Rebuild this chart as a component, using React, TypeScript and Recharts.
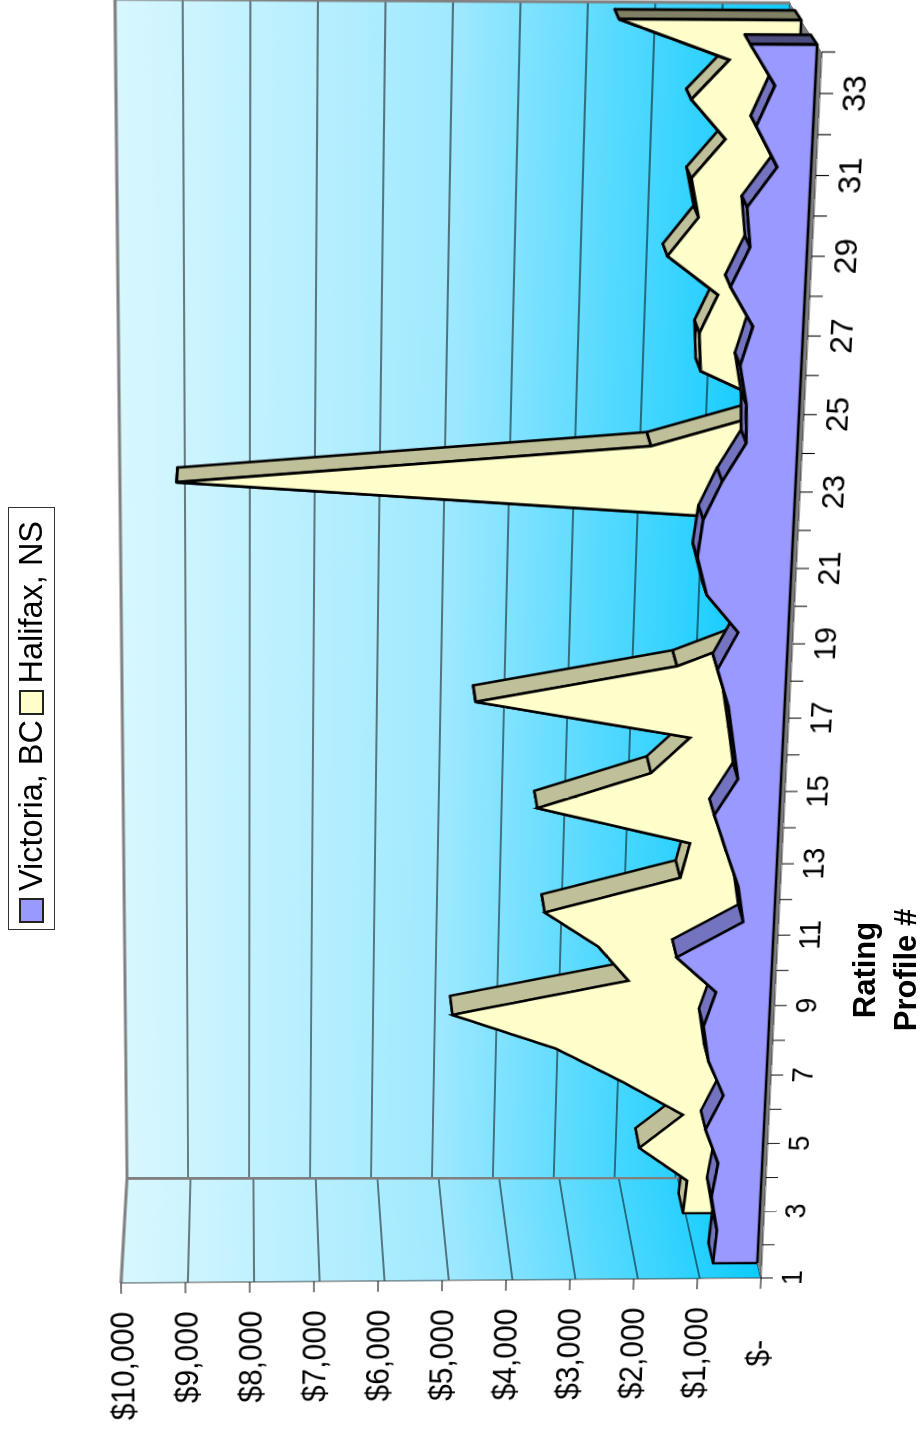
import React from 'react';
import { ComposedChart, Area, Line, XAxis, YAxis, CartesianGrid, ReferenceLine, Legend } from 'recharts';

const categories = Array.from({ length: 34 }, (_, i) => i + 1);
const valueTicks = [0, 1000, 2000, 3000, 4000, 5000, 6000, 7000, 8000, 9000, 10000];
const seriesNames = ['Victoria, BC', 'Halifax, NS'];
const axisTitles = ['Rating', 'Profile #'];
const victoria = [700, 660, 770, 690, 910, 655, 910, 1010, 840, 1470, 470, 570, 780, 985, 650, 745, 845, 1030, 745, 1240, 1400, 1335, 1080, 750, 775, 890, 730, 1080, 820, 890, 485, 810, 570, 945];
const halifax = [1000, 955, 1745, 1065, 2055, 3140, 4790, 2015, 2510, 3370, 1260, 1130, 3530, 1780, 1195, 4525, 1440, 0, 0, 0, 0, 9100, 1960, 0, 1260, 1300, 1045, 1820, 1380, 1510, 1030, 1555, 1020, 2650];

const table = categories.map((cat, i) => ({ cat, victoria: victoria[i], halifax: halifax[i], depth: 0 }));

const FONT = '"Liberation Sans", Arial, sans-serif';
const W = 1430, H = 860, L = 180, T = 20, PW = 1226, PH = 640;
const SW = 2.6;
type Pt = [number, number];
type Quad = [Pt, Pt, Pt, Pt]; // plot top-left, top-right, bottom-right, bottom-left
const FRONT: Quad = [[121, 1283], [105, 48], [822, 52], [761, 1278]];
const BACK: Quad = [[127, 1178], [115, -1], [790, 3], [736, 1178]];
const lerp = (a: Pt, b: Pt, t: number): Pt => [a[0] + (b[0] - a[0]) * t, a[1] + (b[1] - a[1]) * t];
const planeAt = (z: number): Quad => FRONT.map((p, i) => lerp(p, BACK[i], z)) as Quad;

type M = number[];
const mul = (a: M, b: M): M => {
  const r: M = [];
  for (let i = 0; i < 3; i++) for (let j = 0; j < 3; j++) r.push(a[i * 3] * b[j] + a[i * 3 + 1] * b[3 + j] + a[i * 3 + 2] * b[6 + j]);
  return r;
};
const inv = (m: M): M => {
  const [a, b, c, d, e, f, g, h, i] = m;
  const A = e * i - f * h, B = c * h - b * i, C = b * f - c * e;
  const D = f * g - d * i, E = a * i - c * g, F = c * d - a * f;
  const G = d * h - e * g, Hh = b * g - a * h, I = a * e - b * d;
  const det = a * A + b * D + c * G;
  return [A, B, C, D, E, F, G, Hh, I].map((v) => v / det);
};
const apply = (m: M, p: Pt): Pt => {
  const w = m[6] * p[0] + m[7] * p[1] + m[8];
  return [(m[0] * p[0] + m[1] * p[1] + m[2]) / w, (m[3] * p[0] + m[4] * p[1] + m[5]) / w];
};
const homography = (q: Quad): M => {
  const [[x0, y0], [x1, y1], [x2, y2], [x3, y3]] = q;
  const dx1 = x1 - x2, dx2 = x3 - x2, sx = x0 - x1 + x2 - x3;
  const dy1 = y1 - y2, dy2 = y3 - y2, sy = y0 - y1 + y2 - y3;
  const den = dx1 * dy2 - dx2 * dy1;
  const g = (sx * dy2 - dx2 * sy) / den;
  const h = (dx1 * sy - sx * dy1) / den;
  const unit: M = [x1 - x0 + g * x1, x3 - x0 + h * x3, x0, y1 - y0 + g * y1, y3 - y0 + h * y3, y0, g, h, 1];
  const toUnit: M = [1 / PW, 0, -L / PW, 0, 1 / PH, -T / PH, 0, 0, 1];
  return mul(unit, toUnit);
};
const cssMatrix = (m: M) =>
  `matrix3d(${[m[0], m[3], 0, m[6], m[1], m[4], 0, m[7], 0, 0, 1, 0, m[2], m[5], 0, m[8]].join(',')})`;

const Plane = ({ quad, children }: { quad: Quad; children: React.ReactNode }) => (
  <div style={{ position: 'absolute', left: 0, top: 0, width: W, height: H, transformOrigin: '0 0', transform: cssMatrix(homography(quad)) }}>
    {children}
  </div>
);

const MARGIN = { top: T, left: L, right: W - L - PW, bottom: H - T - PH };
const HiddenAxes = (xKey: string, xDomain: number[]) => [
  <XAxis key="x" hide type="number" dataKey={xKey} domain={xDomain} ticks={xDomain} />,
  <YAxis key="y" hide type="number" domain={[0, 10000]} ticks={valueTicks} />,
];
// An invisible series: the axes and the grid of a chart only get their scales when a series is present.
const carrier = <Line dataKey="victoria" stroke="none" dot={false} activeDot={false} isAnimationActive={false} legendType="none" />;

const Grad = ({ id }: { id: string }) => (
  <defs>
    <linearGradient id={id} x1="0" y1="0" x2="0" y2="1">
      <stop offset="0" stopColor="#d8f7ff" />
      <stop offset="0.5" stopColor="#a0e9ff" />
      <stop offset="0.75" stopColor="#55d9ff" />
      <stop offset="1" stopColor="#0ccbff" />
    </linearGradient>
  </defs>
);

const BackWall = () => (
  <Plane quad={BACK}>
    <ComposedChart width={W} height={H} data={table} margin={MARGIN}>
      <Grad id="gradBack" />
      {HiddenAxes('cat', [1, 34])}
      <CartesianGrid vertical={false} stroke="#000" strokeWidth={1.1} fill="url(#gradBack)" fillOpacity={1} />
      {carrier}
      <ReferenceLine y={10000} stroke="#808080" strokeWidth={3} />
      <ReferenceLine x={34} stroke="#808080" strokeWidth={3} />
    </ComposedChart>
  </Plane>
);

const sideQuad: Quad = [FRONT[0], BACK[0], BACK[3], FRONT[3]];
const SideWall = () => (
  <Plane quad={sideQuad}>
    <ComposedChart width={W} height={H} data={table} margin={MARGIN}>
      <Grad id="gradSide" />
      {HiddenAxes('depth', [0, 1])}
      <CartesianGrid vertical={false} stroke="#000" strokeWidth={1.1} fill="url(#gradSide)" fillOpacity={1} />
      {carrier}
      <ReferenceLine y={10000} stroke="#808080" strokeWidth={3} />
      <ReferenceLine x={1} stroke="#808080" strokeWidth={34} />
    </ComposedChart>
  </Plane>
);

const floorQuad: Quad = [BACK[3], BACK[2], FRONT[2], FRONT[3]];
const Floor = () => (
  <Plane quad={floorQuad}>
    <ComposedChart width={W} height={H} data={table} margin={MARGIN}>
      {HiddenAxes('cat', [1, 34])}
      <CartesianGrid vertical={false} horizontal={false} fill="#808080" fillOpacity={1} />
      {carrier}
    </ComposedChart>
  </Plane>
);

const makeBand = (zf: number, zb: number, band: string, cap: string) => {
  const R = mul(inv(homography(planeAt(zf))), homography(planeAt(zb)));
  return (props: any) => {
    const { cx, cy, index, points } = props;
    const p: Pt = [cx, cy];
    const next = points && points[index + 1];
    const poly = (pts: Pt[], fill: string) => (
      <polygon points={pts.map((v) => v.join(',')).join(' ')} fill={fill} stroke="#000" strokeWidth={SW} strokeLinejoin="round" />
    );
    if (next) {
      const q: Pt = [next.x, next.y];
      return <g key={index}>{poly([p, q, apply(R, q), apply(R, p)], band)}</g>;
    }
    const base: Pt = [cx, T + PH];
    return <g key={index}>{poly([p, base, apply(R, base), apply(R, p)], cap)}</g>;
  };
};

const Ribbon = ({ dataKey, values, zf, zb, face, band, cap }: { dataKey: string; values: number[]; zf: number; zb: number; face: string; band: string; cap: string }) => (
  <>
    <Plane quad={planeAt(zf)}>
      <ComposedChart width={W} height={H} data={table} margin={MARGIN}>
        {HiddenAxes('cat', [1, 34])}
        <Line dataKey={dataKey} stroke="none" dot={makeBand(zf, zb, band, cap)} activeDot={false} isAnimationActive={false} legendType="none" />
      </ComposedChart>
    </Plane>
    <Plane quad={planeAt(zf)}>
      <ComposedChart width={W} height={H} data={table} margin={MARGIN}>
        {HiddenAxes('cat', [1, 34])}
        <Area dataKey={dataKey} type="linear" stroke="#000" strokeWidth={SW} fill={face} fillOpacity={1} dot={false} activeDot={false} isAnimationActive={false} legendType="none" />
        <ReferenceLine y={0} stroke="#000" strokeWidth={SW} />
        <ReferenceLine segment={[{ x: 1, y: 0 }, { x: 1, y: values[0] }]} stroke="#000" strokeWidth={SW} />
        <ReferenceLine segment={[{ x: 34, y: 0 }, { x: 34, y: values[values.length - 1] }]} stroke="#000" strokeWidth={SW} />
      </ComposedChart>
    </Plane>
  </>
);

const fmtValue = (v: number) => (v === 0 ? '$-\u00A0\u00A0\u00A0\u00A0' : `$${v.toLocaleString('en-US')}`);
const fmtCat = (c: number) => (c % 2 === 1 ? String(c) : '');

const AxesPlane = () => (
  <Plane quad={FRONT}>
    <ComposedChart width={W} height={H} data={table} margin={{ top: T, left: 0, right: W - L - PW, bottom: 0 }}>
      <XAxis
        type="number"
        dataKey="cat"
        domain={[1, 34]}
        ticks={categories}
        interval={0}
        height={H - T - PH}
        tickSize={12}
        tickMargin={8}
        stroke="#444"
        tickFormatter={fmtCat}
        tick={{ fontSize: 30, fill: '#000', fontFamily: FONT }}
        tickLine={{ stroke: '#000' }}
      />
      <YAxis
        type="number"
        domain={[0, 10000]}
        ticks={valueTicks}
        interval={0}
        width={L}
        tickSize={12}
        tickMargin={20}
        stroke="#444"
        tickFormatter={fmtValue}
        tick={{ fontSize: 34, fill: '#000', fontFamily: FONT }}
        tickLine={{ stroke: '#000' }}
      />
      {carrier}
    </ComposedChart>
  </Plane>
);

const legendColors = ['#9999FF', '#FFFFCC'];
const LegendBox = () => (
  <div style={{ boxSizing: 'border-box', width: 423, height: 47, border: '1.5px solid #333', background: '#fff', display: 'flex', alignItems: 'center', paddingLeft: 6, fontFamily: FONT, fontSize: 32.5, color: '#000', whiteSpace: 'nowrap' }}>
    {seriesNames.map((n, i) => (
      <span key={n} style={{ display: 'inline-flex', alignItems: 'center', width: 216 }}>
        <span style={{ boxSizing: 'border-box', flex: 'none', width: 25, height: 25, background: legendColors[i], border: '2px solid #222', marginRight: 7 }} />
        {n}
      </span>
    ))}
  </div>
);

const TitleLabel = () => (
  <text fontFamily={FONT} fontWeight="bold" fontSize={31} fill="#000" textAnchor="middle">
    <tspan x={467} y={875}>{axisTitles[0]}</tspan>
    <tspan x={467} y={916}>{axisTitles[1]}</tspan>
  </text>
);

const Overlay = () => (
  <div style={{ position: 'absolute', left: 0, top: 0, width: 1437, height: 922, transformOrigin: '0 0', transform: 'translateY(1437px) rotate(-90deg)', pointerEvents: 'none' }}>
    <ComposedChart width={1437} height={922} data={table} margin={{ top: 0, left: 0, right: 0, bottom: 0 }}>
      <XAxis type="number" dataKey="cat" domain={[1, 34]} tick={false} axisLine={false} tickLine={false} height={100} label={{ value: axisTitles.join(' '), content: TitleLabel }} />
      <YAxis hide domain={[0, 10000]} />
      <Legend content={LegendBox} wrapperStyle={{ position: 'absolute', left: 507, top: 8, width: 423, height: 47 }} />
    </ComposedChart>
  </div>
);

export default function App() {
  return (
    <div style={{ position: 'absolute', left: 0, top: 0, width: 922, height: 1437, overflow: 'hidden', background: '#fff' }}>
      <BackWall />
      <SideWall />
      <Floor />
      <Ribbon dataKey="halifax" values={halifax} zf={0.65} zb={0.85} face="#FFFFCC" band="#BFBF99" cap="#808066" />
      <Ribbon dataKey="victoria" values={victoria} zf={0.15} zb={0.35} face="#9999FF" band="#7373BF" cap="#4D4D80" />
      <AxesPlane />
      <Overlay />
    </div>
  );
}
